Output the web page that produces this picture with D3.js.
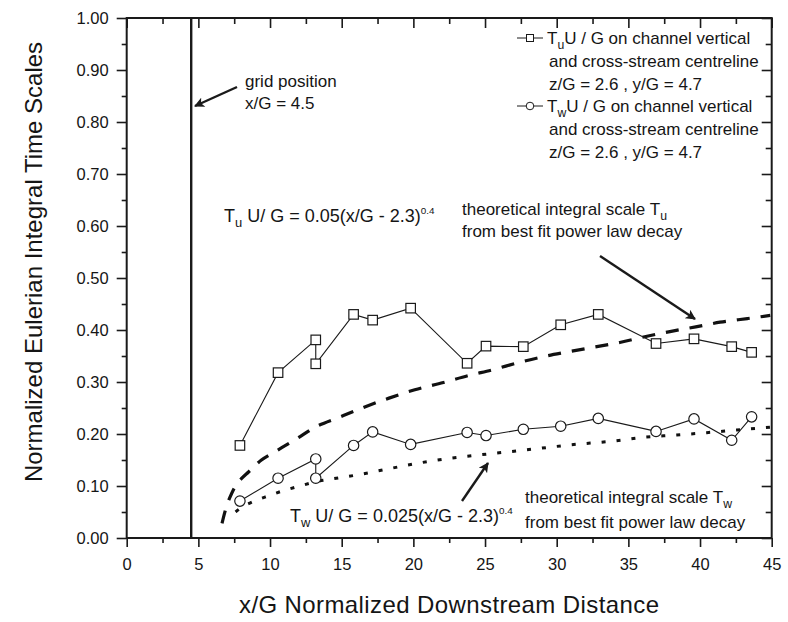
<!DOCTYPE html>
<html>
<head>
<meta charset="utf-8">
<script src="https://cdn.jsdelivr.net/npm/d3@7/dist/d3.min.js"></script>
<style>
  body { margin: 0; background: #fff; }
  svg { display: block; }
  text { font-family: "Liberation Sans", Arial, Helvetica, sans-serif; fill: #151515; }
</style>
</head>
<body>
<svg id="chart" width="788" height="622"></svg>
<script>
// Measurement stations along the channel (x/G)
const stations = [7.9, 10.56, 13.19, 13.19, 15.83, 17.16, 19.81, 23.75, 25.07, 27.67, 30.28, 32.9, 36.93, 39.58, 42.21, 43.6];
// Tu U/G and Tw U/G measured at each station
const tuMeasured = [0.178, 0.318, 0.381, 0.335, 0.430, 0.419, 0.442, 0.336, 0.369, 0.368, 0.410, 0.430, 0.374, 0.383, 0.368, 0.357];
const twMeasured = [0.071, 0.115, 0.152, 0.115, 0.178, 0.204, 0.180, 0.203, 0.197, 0.209, 0.215, 0.230, 0.205, 0.229, 0.188, 0.233];

// Best-fit power-law decay curves
const tuFitX = [6.65, 6.8, 7.0, 7.2, 7.65, 8.0, 8.5, 9.4, 10.35, 11.2, 12.1, 13.0, 14.9, 16.7, 18.3, 20.1, 22.1, 23.8, 25.6, 27.3, 29.1, 30.8, 32.6, 34.4, 36.3, 37.9, 39.7, 41.4, 43.3, 44.9];
const tuFitY = [0.028, 0.045, 0.064, 0.078, 0.103, 0.114, 0.127, 0.150, 0.166, 0.180, 0.195, 0.211, 0.233, 0.253, 0.269, 0.285, 0.299, 0.312, 0.324, 0.337, 0.349, 0.358, 0.367, 0.376, 0.388, 0.397, 0.406, 0.415, 0.422, 0.428];
const twFitX = [7.6, 7.86, 8.83, 9.88, 10.93, 12.09, 13.14, 14.18, 15.35, 16.63, 17.9, 20.35, 22.44, 24.65, 26.74, 28.84, 30.93, 33.95, 36.04, 38.37, 40.47, 42.56, 44.9];
const twFitY = [0.050, 0.056, 0.070, 0.081, 0.091, 0.100, 0.108, 0.113, 0.118, 0.124, 0.131, 0.144, 0.153, 0.160, 0.166, 0.1725, 0.179, 0.1865, 0.1936, 0.198, 0.2026, 0.2077, 0.213];

const xMajorTicks = [0, 5, 10, 15, 20, 25, 30, 35, 40, 45];
const xMinorTicks = [2.5, 7.5, 12.5, 17.5, 22.5, 27.5, 32.5, 37.5, 42.5];
const yMajorTicks = [0, 0.1, 0.2, 0.3, 0.4, 0.5, 0.6, 0.7, 0.8, 0.9, 1.0];
const yMinorTicks = [0.05, 0.15, 0.25, 0.35, 0.45, 0.55, 0.65, 0.75, 0.85, 0.95];
const gridPosition = 4.5;

const svg = d3.select("#chart");
const plot = { left: 126.7, right: 771.7, top: 18, bottom: 538 };

const x = d3.scaleLinear().domain([0, 45]).range([plot.left, plot.right]);
const y = d3.scaleLinear().domain([0, 1]).range([plot.bottom, plot.top]);

svg.append("rect").attr("width", 788).attr("height", 622).attr("fill", "#fff");

const defs = svg.append("defs");
defs.append("clipPath").attr("id", "plotClip")
  .append("rect").attr("x", plot.left).attr("y", plot.top)
  .attr("width", plot.right - plot.left).attr("height", plot.bottom - plot.top);
defs.append("marker")
  .attr("id", "arrowHead").attr("viewBox", "0 0 10 10")
  .attr("refX", 9).attr("refY", 5)
  .attr("markerWidth", 5).attr("markerHeight", 4.2)
  .attr("markerUnits", "strokeWidth").attr("orient", "auto")
  .append("path").attr("d", "M0,0 L10,5 L0,10 L2.5,5 Z").attr("fill", "#1a1a1a");

function styleAxis(g) {
  g.select(".domain").remove();
  g.selectAll(".tick line").attr("stroke", "#1a1a1a").attr("stroke-width", 1.6);
  g.selectAll(".tick text").attr("font-size", 16.5).attr("fill", "#151515")
    .style("font-family", '"Liberation Sans", Arial, sans-serif');
}

// bottom axis (outward ticks, labelled)
svg.append("g").attr("transform", `translate(0,${plot.bottom})`)
  .call(d3.axisBottom(x).tickValues(xMajorTicks).tickSize(9).tickPadding(11).tickFormat(d3.format("d")))
  .call(styleAxis);
svg.append("g").attr("transform", `translate(0,${plot.bottom})`)
  .call(d3.axisBottom(x).tickValues(xMinorTicks).tickSize(5).tickFormat(""))
  .call(styleAxis);
// top axis (inward ticks)
svg.append("g").attr("transform", `translate(0,${plot.top})`)
  .call(d3.axisBottom(x).tickValues(xMajorTicks).tickSize(10).tickFormat(""))
  .call(styleAxis);
svg.append("g").attr("transform", `translate(0,${plot.top})`)
  .call(d3.axisBottom(x).tickValues(xMinorTicks).tickSize(6).tickFormat(""))
  .call(styleAxis);
// left axis (outward ticks, labelled)
svg.append("g").attr("transform", `translate(${plot.left},0)`)
  .call(d3.axisLeft(y).tickValues(yMajorTicks).tickSize(10).tickPadding(8).tickFormat(d3.format(".2f")))
  .call(styleAxis);
svg.append("g").attr("transform", `translate(${plot.left},0)`)
  .call(d3.axisLeft(y).tickValues(yMinorTicks).tickSize(5).tickFormat(""))
  .call(styleAxis);
// right axis (inward ticks)
svg.append("g").attr("transform", `translate(${plot.right},0)`)
  .call(d3.axisLeft(y).tickValues(yMajorTicks).tickSize(10).tickFormat(""))
  .call(styleAxis);
svg.append("g").attr("transform", `translate(${plot.right},0)`)
  .call(d3.axisLeft(y).tickValues(yMinorTicks).tickSize(6).tickFormat(""))
  .call(styleAxis);

// frame
svg.append("rect")
  .attr("x", plot.left).attr("y", plot.top)
  .attr("width", plot.right - plot.left).attr("height", plot.bottom - plot.top)
  .attr("fill", "none").attr("stroke", "#1a1a1a").attr("stroke-width", 2);

// grid position marker
svg.append("line")
  .attr("x1", x(gridPosition)).attr("x2", x(gridPosition))
  .attr("y1", plot.top).attr("y2", plot.bottom)
  .attr("stroke", "#1a1a1a").attr("stroke-width", 2.4);

// fitted curves
const fitLine = d3.line().curve(d3.curveMonotoneX);
svg.append("path")
  .attr("clip-path", "url(#plotClip)")
  .attr("d", fitLine(tuFitX.map((v, i) => [x(v), y(tuFitY[i])])))
  .attr("fill", "none").attr("stroke", "#111").attr("stroke-width", 3.2)
  .attr("stroke-dasharray", "13,11");
svg.append("path")
  .attr("clip-path", "url(#plotClip)")
  .attr("d", fitLine(twFitX.map((v, i) => [x(v), y(twFitY[i])])))
  .attr("fill", "none").attr("stroke", "#111").attr("stroke-width", 3)
  .attr("stroke-dasharray", "4,11");

// measured series
const dataLine = d3.line().x((d, i) => x(stations[i])).y(d => y(d));
svg.append("path").attr("d", dataLine(tuMeasured))
  .attr("fill", "none").attr("stroke", "#1a1a1a").attr("stroke-width", 1.1);
svg.append("path").attr("d", dataLine(twMeasured))
  .attr("fill", "none").attr("stroke", "#1a1a1a").attr("stroke-width", 1.1);

const sq = 9.5;
svg.append("g").selectAll("rect").data(tuMeasured).join("rect")
  .attr("x", (d, i) => x(stations[i]) - sq / 2).attr("y", d => y(d) - sq / 2)
  .attr("width", sq).attr("height", sq)
  .attr("fill", "#fff").attr("stroke", "#1a1a1a").attr("stroke-width", 1.2);
svg.append("g").selectAll("circle").data(twMeasured).join("circle")
  .attr("cx", (d, i) => x(stations[i])).attr("cy", d => y(d)).attr("r", 5.2)
  .attr("fill", "#fff").attr("stroke", "#1a1a1a").attr("stroke-width", 1.2);

function arrow(x1, y1, x2, y2) {
  svg.append("line").attr("x1", x1).attr("y1", y1).attr("x2", x2).attr("y2", y2)
    .attr("stroke", "#1a1a1a").attr("stroke-width", 2.4).attr("marker-end", "url(#arrowHead)");
}
function label(px, py, size, str) {
  return svg.append("text").attr("x", px).attr("y", py).attr("font-size", size).text(str);
}
// "T" followed by a subscript and more text
function subLabel(px, py, size, sub, rest) {
  const t = svg.append("text").attr("x", px).attr("y", py).attr("font-size", size);
  t.append("tspan").text("T");
  t.append("tspan").text(sub).attr("font-size", size * 0.72).attr("dy", size * 0.3);
  if (rest) t.append("tspan").text(rest).attr("dy", -size * 0.3);
  return t;
}
function formula(px, py, sub, coef, size) {
  const t = subLabel(px, py, size, sub, ` U/ G = ${coef}(x/G - 2.3)`);
  t.append("tspan").text("0.4").attr("font-size", size * 0.55).attr("dy", -size * 0.45);
}

// grid position annotation
label(245, 87, 17, "grid position");
label(245, 109, 17, "x/G = 4.5");
arrow(237, 87, 195, 106);

// Tu fit annotation
formula(224, 222, "u", "0.05", 18);
subLabel(462, 215, 17, "u");
svg.select("text:last-of-type");
d3.select(svg.node().lastChild).insert("tspan", ":first-child").text("theoretical integral scale ");
label(462, 237, 17, "from best fit power law decay");
arrow(600, 256, 695, 319);

// Tw fit annotation
formula(290, 522, "w", "0.025", 18);
subLabel(525, 503, 17, "w");
d3.select(svg.node().lastChild).insert("tspan", ":first-child").text("theoretical integral scale ");
label(525, 528, 17, "from best fit power law decay");
arrow(462, 501, 488, 463);

// legend
const legendRows = [
  { sym: "square", sub: "u", y: 44 },
  { sym: "circle", sub: "w", y: 112 }
];
const legX = 517, legText = 547, legSize = 17, legGap = 23;
legendRows.forEach(r => {
  const cy = r.y - 6;
  svg.append("line").attr("x1", legX).attr("x2", legX + 26).attr("y1", cy).attr("y2", cy)
    .attr("stroke", "#1a1a1a").attr("stroke-width", 1);
  if (r.sym === "square") {
    svg.append("rect").attr("x", legX + 13 - 3.5).attr("y", cy - 3.5).attr("width", 7).attr("height", 7)
      .attr("fill", "#fff").attr("stroke", "#1a1a1a").attr("stroke-width", 1);
  } else {
    svg.append("circle").attr("cx", legX + 13).attr("cy", cy).attr("r", 3.8)
      .attr("fill", "#fff").attr("stroke", "#1a1a1a").attr("stroke-width", 1);
  }
  subLabel(legText, r.y, legSize, r.sub, "U / G on channel vertical");
  label(legText + 2, r.y + legGap, legSize, "and cross-stream centreline");
  label(legText + 2, r.y + 2 * legGap, legSize, "z/G = 2.6 , y/G = 4.7");
});

// axis titles
svg.append("text").attr("x", (plot.left + plot.right) / 2).attr("y", 613)
  .attr("text-anchor", "middle").attr("font-size", 24).attr("letter-spacing", 0.4)
  .text("x/G Normalized Downstream Distance");
svg.append("text").attr("transform", "translate(42,262) rotate(-90)")
  .attr("text-anchor", "middle").attr("font-size", 24)
  .text("Normalized Eulerian Integral Time Scales");
</script>
</body>
</html>
